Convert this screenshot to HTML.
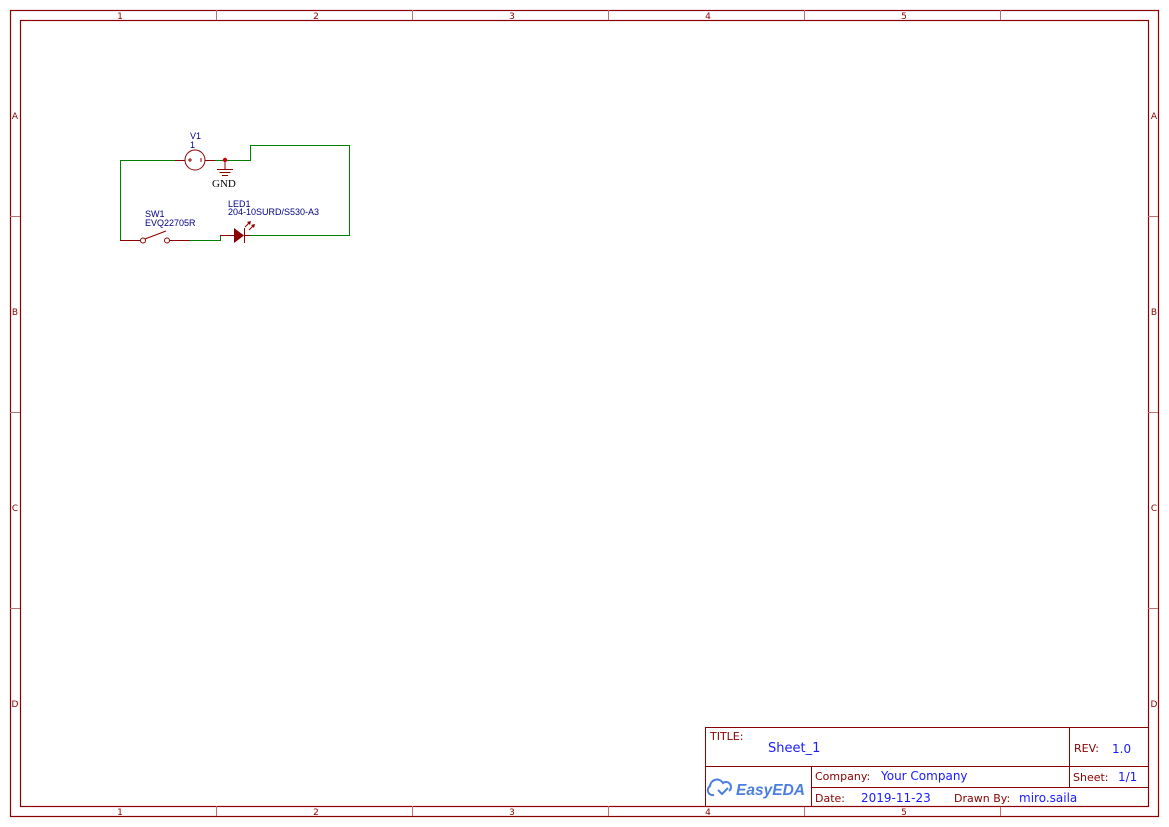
<!DOCTYPE html>
<html><head><meta charset="utf-8"><style>body{margin:0;background:#fff}svg{display:block}</style></head>
<body>
<svg width="1169" height="827" viewBox="0 0 1169 827" xmlns="http://www.w3.org/2000/svg" font-family="Liberation Sans, DejaVu Sans, sans-serif">
<g fill="none" stroke="#8b0000">
<rect x="10.5" y="10.5" width="1148" height="806" stroke-width="1.2"/>
<rect x="20.5" y="20.5" width="1128" height="786" stroke-width="1.2"/>
<g stroke-width="1" stroke="#c07070">
<line x1="216.5" y1="10" x2="216.5" y2="20"/><line x1="412.5" y1="10" x2="412.5" y2="20"/><line x1="608.5" y1="10" x2="608.5" y2="20"/><line x1="804.5" y1="10" x2="804.5" y2="20"/><line x1="1000.5" y1="10" x2="1000.5" y2="20"/>
<line x1="216.5" y1="806" x2="216.5" y2="816"/><line x1="412.5" y1="806" x2="412.5" y2="816"/><line x1="608.5" y1="806" x2="608.5" y2="816"/><line x1="804.5" y1="806" x2="804.5" y2="816"/><line x1="1000.5" y1="806" x2="1000.5" y2="816"/>
<line x1="10" y1="216.5" x2="20" y2="216.5"/><line x1="10" y1="412.5" x2="20" y2="412.5"/><line x1="10" y1="608.5" x2="20" y2="608.5"/>
<line x1="1148" y1="216.5" x2="1158" y2="216.5"/><line x1="1148" y1="412.5" x2="1158" y2="412.5"/><line x1="1148" y1="608.5" x2="1158" y2="608.5"/>
</g>
<rect x="705.5" y="727.5" width="443" height="79"/>
<line x1="705" y1="766.5" x2="1148" y2="766.5"/>
<line x1="811" y1="787.5" x2="1148" y2="787.5"/>
<line x1="1069.5" y1="727" x2="1069.5" y2="787"/>
<line x1="811.5" y1="766" x2="811.5" y2="806"/>
</g>
<g fill="#8b0000" font-size="9" text-anchor="middle" font-family="DejaVu Sans, sans-serif">
<text x="120" y="19">1</text><text x="316" y="19">2</text><text x="512" y="19">3</text><text x="708" y="19">4</text><text x="904" y="19">5</text>
<text x="120" y="815">1</text><text x="316" y="815">2</text><text x="512" y="815">3</text><text x="708" y="815">4</text><text x="904" y="815">5</text>
<text x="15" y="119">A</text><text x="15" y="315">B</text><text x="15" y="511">C</text><text x="15" y="707">D</text>
<text x="1154" y="119">A</text><text x="1154" y="315">B</text><text x="1154" y="511">C</text><text x="1154" y="707">D</text>
</g>
<g font-size="11" font-family="DejaVu Sans, sans-serif">
<text x="710" y="740" fill="#8b0000">TITLE:</text>
<text x="768" y="752" fill="#1a1aff" font-size="13">Sheet_1</text>
<text x="1074" y="752" fill="#8b0000">REV:</text>
<text x="1112" y="753" fill="#1a1aff" font-size="12">1.0</text>
<text x="815" y="780" fill="#8b0000">Company:</text>
<text x="881" y="780" fill="#1a1aff" font-size="12">Your Company</text>
<text x="1073" y="781" fill="#8b0000">Sheet:</text>
<text x="1118" y="781" fill="#1a1aff" font-size="12">1/1</text>
<text x="815" y="802" fill="#8b0000">Date:</text>
<text x="861" y="802" fill="#1a1aff" font-size="12">2019-11-23</text>
<text x="954" y="802" fill="#8b0000">Drawn By:</text>
<text x="1019" y="802" fill="#1a1aff" font-size="12">miro.saila</text>
</g>
<text x="736" y="795" fill="#4a7fe0" font-size="16" font-style="italic" font-weight="bold" textLength="69" lengthAdjust="spacingAndGlyphs">EasyEDA</text>
<path d="M714 795 a5 5 0 0 1 -4 -9 a7 7 0 0 1 13 -3 a5 5 0 0 1 6 8 M718 790 l4 4 l6 -6" fill="none" stroke="#4a7fe0" stroke-width="2"/>
<!-- schematic -->
<g fill="none" stroke="#008000" stroke-width="1">
<polyline points="175,160.5 120.5,160.5 120.5,240.5 125,240.5"/>
<polyline points="215,160.5 250.5,160.5 250.5,145.5 349.5,145.5 349.5,235.5 250,235.5"/>
<polyline points="190,240.5 220.5,240.5 220.5,235.5 224,235.5"/>
</g>
<g fill="none" stroke="#8b0000" stroke-width="1">
<line x1="175" y1="160.5" x2="185" y2="160.5"/><line x1="205" y1="160.5" x2="215" y2="160.5"/>
<circle cx="195" cy="160" r="10"/>
<line x1="188" y1="160" x2="192" y2="160"/><line x1="190" y1="158" x2="190" y2="162"/><line x1="201" y1="158" x2="201" y2="162"/>
<line x1="225" y1="160" x2="225" y2="169"/>
<line x1="217" y1="169.5" x2="233" y2="169.5"/><line x1="219.5" y1="172.5" x2="230.5" y2="172.5"/><line x1="222" y1="175.5" x2="228" y2="175.5"/>
<line x1="120" y1="240.5" x2="140" y2="240.5"/><circle cx="143" cy="240.5" r="2.5"/><circle cx="167" cy="240.5" r="2.5"/>
<line x1="145" y1="239" x2="166" y2="231"/><line x1="170" y1="240.5" x2="190" y2="240.5"/>
<line x1="220" y1="235.5" x2="234" y2="235.5"/><line x1="244" y1="235.5" x2="250" y2="235.5"/>
<line x1="244.5" y1="228" x2="244.5" y2="243"/>
<line x1="245" y1="227" x2="250" y2="222"/><line x1="249" y1="230" x2="254" y2="225"/>
</g>
<polygon points="234,228 244,235.5 234,243" fill="#8b0000"/>
<polygon points="251,221 247,222 250,225" fill="#8b0000"/><polygon points="255,224 251,225 254,228" fill="#8b0000"/>
<circle cx="225" cy="160" r="2.2" fill="#cc0000"/>
<g fill="#000080" font-size="9">
<text x="190" y="139">V1</text><text x="190" y="148">1</text>
<text x="145" y="217">SW1</text><text x="145" y="226">EVQ22705R</text>
<text x="228" y="207">LED1</text><text x="228" y="215">204-10SURD/S530-A3</text>
</g>
<text x="212" y="187" font-family="Liberation Serif, serif" font-size="11" fill="#000">GND</text>
</svg>
</body></html>
